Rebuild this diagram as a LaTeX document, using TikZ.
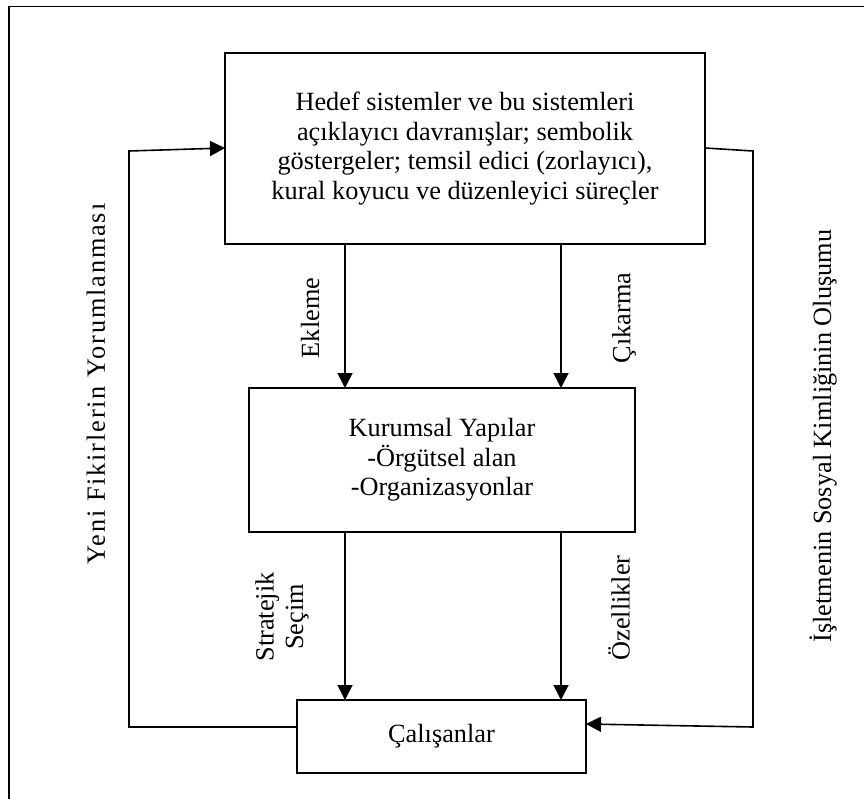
\documentclass[tikz,border=0pt]{standalone}
\usepackage{fontspec}
\setmainfont{Liberation Serif}
\usetikzlibrary{arrows.meta}
\begin{document}
\begin{tikzpicture}[x=1pt,y=-1pt,
  box/.style={draw,line width=1.6pt,inner sep=0pt,outer sep=0pt,align=center,
    font=\fontsize{26.3}{29.5}\selectfont},
  lbl/.style={font=\fontsize{26.3}{29.5}\selectfont,align=center,inner sep=0pt},
  link/.style={line width=1.6pt},
  arr/.style={line width=1.6pt,-{Triangle[length=15pt,width=15pt]}}]
\useasboundingbox (0,0) rectangle (864,798);
% frame (only its top and left sides fall on the page)
\draw[line width=1.3pt] (9,820) -- (9,6.5) -- (880,6.5);

% boxes
\node[box,minimum width=480pt,minimum height=191pt] (top) at (465,148.5)
  {Hedef sistemler ve bu sistemleri\\açıklayıcı davranışlar; sembolik\\göstergeler; temsil edici (zorlayıcı),\\kural koyucu ve düzenleyici süreçler};
\node[box,minimum width=386pt,minimum height=144pt] (mid) at (442,460)
  {Kurumsal Yapılar\\-Örgütsel alan\\-Organizasyonlar};
\node[box,minimum width=289pt,minimum height=73pt] (cal) at (441.5,736.5)
  {Çalışanlar};

% vertical links
\coordinate (xa) at (345,0);
\coordinate (xb) at (561,0);
\draw[arr] (top.south -| xa) -- (mid.north -| xa);
\draw[arr] (top.south -| xb) -- (mid.north -| xb);
\draw[arr] (mid.south -| xa) -- (cal.north -| xa);
\draw[arr] (mid.south -| xb) -- (cal.north -| xb);

% feedback loops
\coordinate (lb) at (129,727);
\coordinate (lt) at (129,151);
\coordinate (rt) at (753,151);
\coordinate (rb) at (753,727);
\draw[arr] (cal.west |- lb) -- (lb) -- (lt) -- ([yshift=0.5pt]top.west);
\draw[arr] ([yshift=0.5pt]top.east) -- (rt) -- (rb) -- ([yshift=12.5pt]cal.east);

% labels
\node[lbl,rotate=90] (ekl) at (310,318) {Ekleme};
\node[lbl,rotate=90] (cik) at (624,318) {Çıkarma};
\node[lbl,rotate=90] (str) at (282,617) {Stratejik\\Seçim};
\node[lbl,rotate=90] (oze) at (619,608) {Özellikler};
\node[lbl,rotate=90,font=\fontsize{26.3}{29.5}\selectfont\addfontfeature{LetterSpace=7}] (yeni) at (96,384) {Yeni Fikirlerin Yorumlanması};
\node[lbl,rotate=90] (isl) at (823,436) {İşletmenin Sosyal Kimliğinin Oluşumu};
\end{tikzpicture}
\end{document}
